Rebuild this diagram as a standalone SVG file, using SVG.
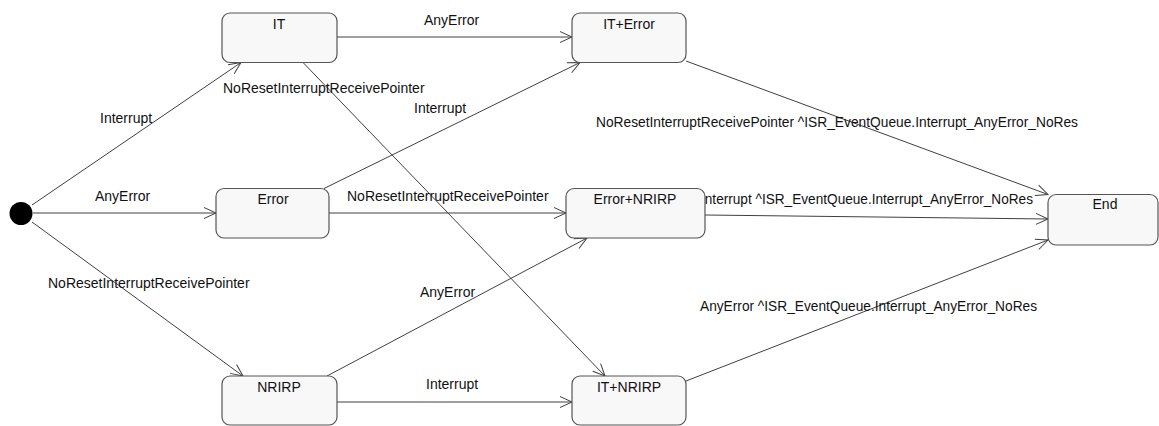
<svg xmlns="http://www.w3.org/2000/svg" width="1159" height="426" viewBox="0 0 1159 426">
  <style>
    .state rect { fill: #f8f8f8; stroke: #555555; stroke-width: 1.2; }
    .state text { font-family: "Liberation Sans", Arial, sans-serif; font-size: 14px; fill: #111111; text-anchor: middle; }
    .edge { fill: none; stroke: #404040; stroke-width: 1; marker-end: url(#open-arrow); }
    .label { font-family: "Liberation Sans", Arial, sans-serif; font-size: 14px; fill: #111111; }
  </style>
  <defs>
    <marker id="open-arrow" markerUnits="userSpaceOnUse" markerWidth="16" markerHeight="14" viewBox="-14 -7 16 14" refX="0" refY="0" orient="auto">
      <path d="M-12,-5.5 L0,0 L-12,5.5" fill="none" stroke="#404040" stroke-width="1"/>
    </marker>
  </defs>

  <rect width="1159" height="426" fill="#ffffff"/>

  <!-- transitions -->
  <g id="connectors">
    <path class="edge" d="M32,205 L241,62.5"/>
    <path class="edge" d="M33,213 L216,213"/>
    <path class="edge" d="M32,222 L243,376"/>
    <path class="edge" d="M337,37 L572,37"/>
    <path class="edge" d="M303,62.5 L605,376"/>
    <path class="edge" d="M324,188.5 L580,62.5"/>
    <path class="edge" d="M329,213 L566,213"/>
    <path class="edge" d="M327,376 L587,238"/>
    <path class="edge" d="M337,402 L572,402"/>
    <path class="edge" d="M686,61 L1048,194.5"/>
    <path class="edge" d="M705,215 L1048,219"/>
    <path class="edge" d="M686,381 L1048,240"/>

    <text class="label" x="100" y="123">Interrupt</text>
    <text class="label" x="95" y="201">AnyError</text>
    <text class="label" x="48" y="288">NoResetInterruptReceivePointer</text>
    <text class="label" x="424" y="25">AnyError</text>
    <text class="label" x="223" y="93">NoResetInterruptReceivePointer</text>
    <text class="label" x="414" y="113">Interrupt</text>
    <text class="label" x="347" y="201">NoResetInterruptReceivePointer</text>
    <text class="label" x="420" y="297">AnyError</text>
    <text class="label" x="426" y="389">Interrupt</text>
    <text class="label" x="596" y="127" textLength="482" lengthAdjust="spacingAndGlyphs">NoResetInterruptReceivePointer ^ISR_EventQueue.Interrupt_AnyError_NoRes</text>
    <text class="label" x="701" y="204" textLength="332" lengthAdjust="spacingAndGlyphs">Interrupt ^ISR_EventQueue.Interrupt_AnyError_NoRes</text>
    <text class="label" x="700" y="311" textLength="337" lengthAdjust="spacingAndGlyphs">AnyError ^ISR_EventQueue.Interrupt_AnyError_NoRes</text>
  </g>

  <!-- initial pseudo-state -->
  <g id="initial">
    <circle cx="21" cy="213.5" r="11.5" fill="#000000"/>
  </g>

  <!-- states -->
  <g id="state-IT" class="state">
    <rect x="222" y="13" width="115" height="49.5" rx="8" ry="8"/>
    <text x="279" y="28.5">IT</text>
  </g>
  <g id="state-Error" class="state">
    <rect x="216" y="188.5" width="113" height="49.5" rx="8" ry="8"/>
    <text x="273" y="203.5">Error</text>
  </g>
  <g id="state-NRIRP" class="state">
    <rect x="222" y="376" width="115" height="49" rx="8" ry="8"/>
    <text x="279" y="391.5">NRIRP</text>
  </g>
  <g id="state-IT-Error" class="state">
    <rect x="572" y="13" width="114" height="49.5" rx="8" ry="8"/>
    <text x="629" y="28.5">IT+Error</text>
  </g>
  <g id="state-Error-NRIRP" class="state">
    <rect x="566" y="188.5" width="139" height="49.5" rx="8" ry="8"/>
    <text x="635" y="204">Error+NRIRP</text>
  </g>
  <g id="state-IT-NRIRP" class="state">
    <rect x="572" y="376" width="114" height="49" rx="8" ry="8"/>
    <text x="629" y="391.5">IT+NRIRP</text>
  </g>
  <g id="state-End" class="state">
    <rect x="1048" y="194.5" width="110" height="50.5" rx="8" ry="8"/>
    <text x="1105" y="208.5">End</text>
  </g>
</svg>
